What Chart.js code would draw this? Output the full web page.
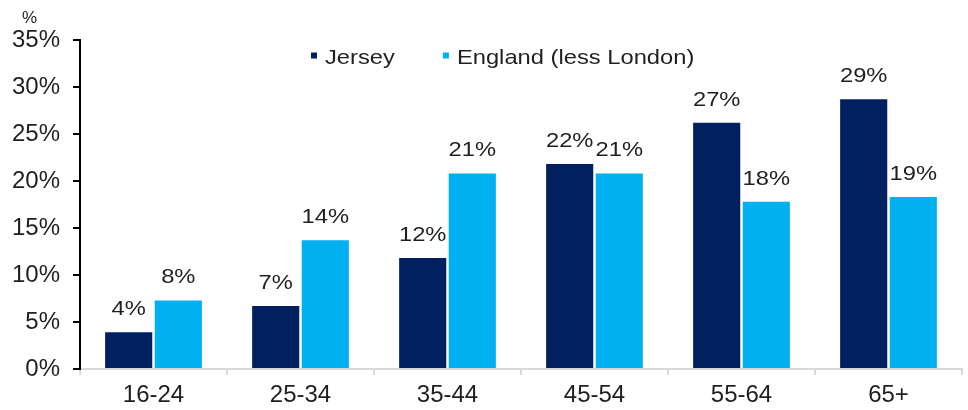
<!DOCTYPE html>
<html>
<head>
<meta charset="utf-8">
<script src="https://cdn.jsdelivr.net/npm/chart.js@4.4.0/dist/chart.umd.min.js"></script>
<style>
  body { margin: 0; background: #fff; }
  #wrap { width: 968px; height: 410px; }
</style>
</head>
<body>
<div id="wrap"><canvas id="ageChart"></canvas></div>
<script>
const ageGroups = ['16-24', '25-34', '35-44', '45-54', '55-64', '65+'];

const jerseyData = [3.9, 6.7, 11.8, 21.8, 26.2, 28.7];   // bar heights, %
const englandData = [7.3, 13.7, 20.8, 20.8, 17.8, 18.3];

// printed labels above the bars (as shown in the source)
const jerseyLabels = ['4%', '7%', '12%', '22%', '27%', '29%'];
const englandLabels = ['8%', '14%', '21%', '21%', '18%', '19%'];

const textColor = '#1f1f1f';
const fontFamily = '"Liberation Sans", Arial, sans-serif';
const textStretch = 1.13;   // source text is a little wider than plain Arial

Chart.defaults.font.family = fontFamily;
Chart.defaults.color = textColor;

// draw text squeezed/stretched horizontally around its anchor
function wideText(ctx, text, x, y, align) {
    const w = ctx.measureText(text).width * textStretch;
    let left = x;
    if (align === 'center') left = x - w / 2;
    ctx.save();
    ctx.translate(left, y);
    ctx.scale(textStretch, 1);
    ctx.textAlign = 'left';
    ctx.fillText(text, 0, 0);
    ctx.restore();
    return w;
}

const valueLabels = {
    id: 'valueLabels',
    afterDatasetsDraw(chart) {
        const ctx = chart.ctx;
        const seriesLabels = [jerseyLabels, englandLabels];
        ctx.save();
        ctx.font = '21px ' + fontFamily;
        ctx.fillStyle = textColor;
        ctx.textBaseline = 'alphabetic';
        chart.data.datasets.forEach((ds, i) => {
            chart.getDatasetMeta(i).data.forEach((bar, j) => {
                wideText(ctx, seriesLabels[i][j], bar.x, bar.y - 17, 'center');
            });
        });
        ctx.restore();
    }
};

const topLegend = {
    id: 'topLegend',
    afterDraw(chart) {
        const ctx = chart.ctx;
        ctx.save();
        ctx.font = '21px ' + fontFamily;
        ctx.textBaseline = 'alphabetic';
        let x = 311;
        chart.data.datasets.forEach(ds => {
            ctx.fillStyle = ds.backgroundColor;
            ctx.fillRect(x, 52.5, 6, 6);
            ctx.fillStyle = textColor;
            const w = wideText(ctx, ds.label, x + 14, 64, 'left');
            x += 14 + w + 48;
        });
        // unit above the y axis
        ctx.font = '17px ' + fontFamily;
        ctx.textAlign = 'left';
        ctx.fillText('%', 22, 23);
        ctx.restore();
    }
};

const ctx = document.getElementById('ageChart').getContext('2d');
const ageChart = new Chart(ctx, {
    type: 'bar',
    data: {
        labels: ageGroups,
        datasets: [{
            label: 'Jersey',
            data: jerseyData,
            backgroundColor: '#002060',
            categoryPercentage: 0.675,
            barPercentage: 0.95
        }, {
            label: 'England (less London)',
            data: englandData,
            backgroundColor: '#00B0F0',
            categoryPercentage: 0.675,
            barPercentage: 0.95
        }]
    },
    options: {
        responsive: true,
        maintainAspectRatio: false,
        animation: false,
        layout: { padding: { top: 40, right: 6, left: 0, bottom: 0 } },
        plugins: {
            legend: { display: false },
            tooltip: { enabled: false }
        },
        scales: {
            x: {
                grid: {
                    display: true,
                    drawOnChartArea: false,
                    offset: true,
                    tickLength: 6,
                    color: '#d9d9d9',
                    lineWidth: 2
                },
                border: { color: '#d9d9d9', width: 2 },
                ticks: { font: { size: 24 }, color: textColor, padding: 6 },
                afterFit(scale) { scale.height = 41; }
            },
            y: {
                min: 0,
                max: 35,
                ticks: {
                    stepSize: 5,
                    font: { size: 24 },
                    color: textColor,
                    padding: 13,
                    callback: v => v + '%'
                },
                grid: {
                    drawOnChartArea: false,
                    tickLength: 7,
                    color: '#000',
                    lineWidth: 2
                },
                border: { color: '#000', width: 2 },
                afterFit(scale) { scale.width = 80; }
            }
        }
    },
    plugins: [valueLabels, topLegend]
});
</script>
</body>
</html>
